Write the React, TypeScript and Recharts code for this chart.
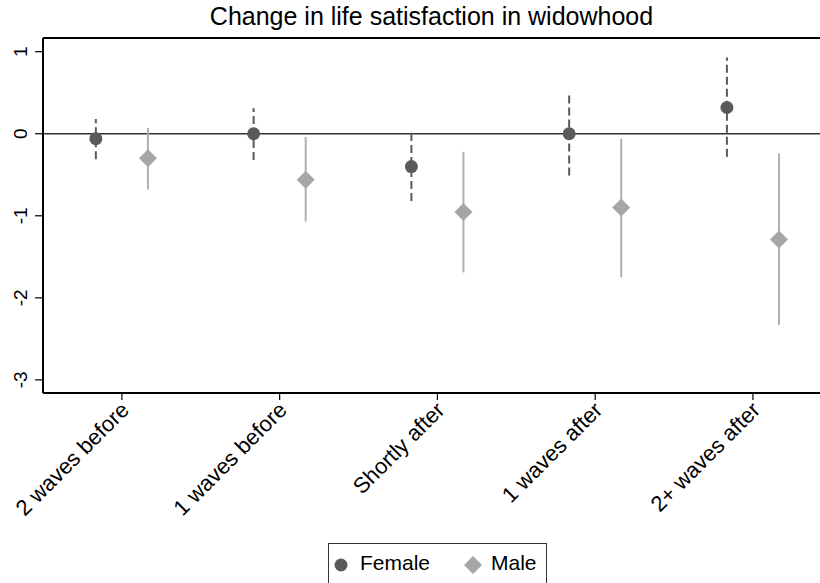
import React from 'react';
import { ErrorBar, ReferenceLine, Scatter, ScatterChart, XAxis, YAxis } from 'recharts';

const CATEGORIES = ['2 waves before', '1 waves before', 'Shortly after', '1 waves after', '2+ waves after'];

const FEMALE_COEF = [-0.06, 0.0, -0.4, 0.0, 0.32];
const FEMALE_LOW = [-0.31, -0.32, -0.82, -0.51, -0.28];
const FEMALE_HIGH = [0.18, 0.31, 0.02, 0.49, 0.93];

const MALE_COEF = [-0.3, -0.56, -0.955, -0.9, -1.29];
const MALE_LOW = [-0.68, -1.07, -1.69, -1.75, -2.33];
const MALE_HIGH = [0.07, -0.04, -0.22, -0.06, -0.24];

const Y_TICKS = [-3, -2, -1, 0, 1];
const Y_DOMAIN = [-3.16, 1.167];
const X_DOMAIN = [-0.5, 4.425];
const GROUP_OFFSET = 0.165;

const FONT = '"Liberation Sans", Arial, Helvetica, sans-serif';
const FEMALE_COLOR = '#5a5a5a';
const MALE_COLOR = '#a6a6a6';

const buildSeries = (coef: number[], low: number[], high: number[], shift: number) =>
  coef.map((c, i) => ({
    x: i + shift,
    y: c,
    err: [c - low[i], high[i] - c],
  }));

const femaleData = buildSeries(FEMALE_COEF, FEMALE_LOW, FEMALE_HIGH, -GROUP_OFFSET);
const maleData = buildSeries(MALE_COEF, MALE_LOW, MALE_HIGH, GROUP_OFFSET);

const Dot = ({ cx, cy }: any) => <circle cx={cx} cy={cy} r={6.5} fill={FEMALE_COLOR} />;

const Diamond = ({ cx, cy }: any) => {
  const s = 9;
  return (
    <polygon
      points={`${cx},${cy - s} ${cx + s},${cy} ${cx},${cy + s} ${cx - s},${cy}`}
      fill={MALE_COLOR}
    />
  );
};

const XTick = ({ x, y, payload }: any) => (
  <text
    x={x + 3}
    y={y}
    dy="0.35em"
    transform={`rotate(-45 ${x + 3} ${y})`}
    textAnchor="end"
    fontSize={22}
    fontFamily={FONT}
    fill="#000"
  >
    {CATEGORIES[payload.value]}
  </text>
);

const YTick = ({ x, y, payload }: any) => (
  <text
    x={x}
    y={y}
    transform={`rotate(-90 ${x} ${y})`}
    textAnchor="middle"
    fontSize={19}
    fontFamily={FONT}
    fill="#000"
  >
    {payload.value}
  </text>
);

export default function App() {
  return (
    <div style={{ position: 'absolute', left: 0, top: 0, width: 820, height: 583, background: '#fff', overflow: 'hidden' }}>
      <div
        style={{
          position: 'absolute',
          left: 43,
          width: 777,
          top: 2,
          textAlign: 'center',
          fontFamily: FONT,
          fontSize: 25,
          color: '#000',
        }}
      >
        Change in life satisfaction in widowhood
      </div>
      <ScatterChart width={820} height={583} margin={{ top: 38, right: 0, left: 8, bottom: 0 }}>
        <XAxis
          type="number"
          dataKey="x"
          domain={X_DOMAIN}
          ticks={[0, 1, 2, 3, 4]}
          allowDataOverflow
          height={190}
          tickSize={7}
          tickMargin={6}
          tick={<XTick />}
          axisLine={{ stroke: '#000', strokeWidth: 2 }}
          tickLine={{ stroke: '#000', strokeWidth: 1.2 }}
        />
        <YAxis
          type="number"
          dataKey="y"
          domain={Y_DOMAIN}
          ticks={Y_TICKS}
          allowDataOverflow
          width={35}
          tickSize={8}
          tickMargin={8}
          tick={<YTick />}
          axisLine={{ stroke: '#000', strokeWidth: 2 }}
          tickLine={{ stroke: '#000', strokeWidth: 1.2 }}
        />
        <ReferenceLine y={Y_DOMAIN[1]} stroke="#000" strokeWidth={2} />
        <ReferenceLine y={0} stroke="#333" strokeWidth={1.6} />
        <Scatter data={femaleData} shape={<Dot />} isAnimationActive={false}>
          <ErrorBar
            dataKey="err"
            direction="y"
            width={0}
            stroke={FEMALE_COLOR}
            strokeWidth={2}
            strokeDasharray="8 4"
            isAnimationActive={false}
          />
        </Scatter>
        <Scatter data={maleData} shape={<Diamond />} isAnimationActive={false}>
          <ErrorBar
            dataKey="err"
            direction="y"
            width={0}
            stroke="#b0b0b0"
            strokeWidth={2}
            isAnimationActive={false}
          />
        </Scatter>
      </ScatterChart>
      <div
        style={{
          position: 'absolute',
          left: 328,
          top: 543,
          width: 219,
          height: 50,
          border: '1px solid #333',
          boxSizing: 'border-box',
          fontFamily: FONT,
          fontSize: 21,
          color: '#000',
        }}
      >
        <svg width={24} height={24} style={{ position: 'absolute', left: 0, top: 9 }}>
          <circle cx={12} cy={12} r={6.5} fill={FEMALE_COLOR} />
        </svg>
        <span style={{ position: 'absolute', left: 31, top: 7 }}>Female</span>
        <svg width={24} height={24} style={{ position: 'absolute', left: 132, top: 9 }}>
          <polygon points="12,3 21,12 12,21 3,12" fill={MALE_COLOR} />
        </svg>
        <span style={{ position: 'absolute', left: 162, top: 7 }}>Male</span>
      </div>
    </div>
  );
}
